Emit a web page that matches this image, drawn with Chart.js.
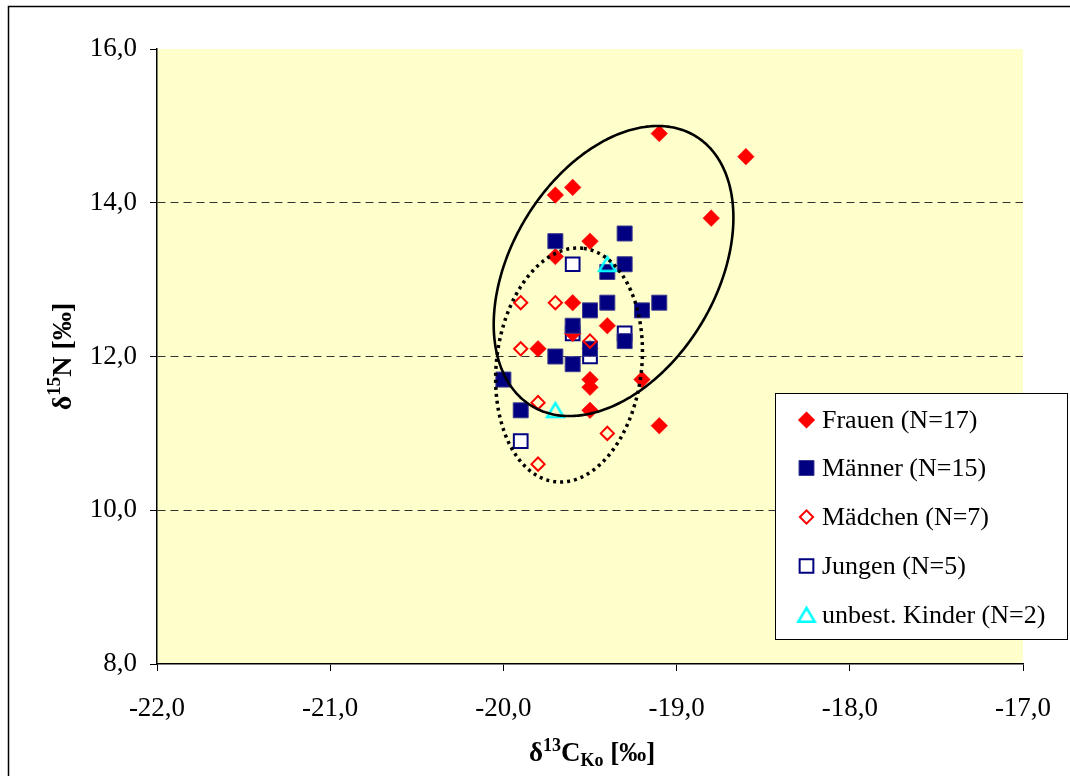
<!DOCTYPE html>
<html>
<head>
<meta charset="utf-8">
<script src="https://cdn.jsdelivr.net/npm/chart.js@4/dist/chart.umd.min.js"></script>
<style>
  html, body { margin: 0; padding: 0; background: #ffffff; }
  #wrap { width: 1070px; height: 776px; position: relative; }
</style>
</head>
<body>
<div id="wrap"><canvas id="c" width="1070" height="776"></canvas></div>
<script>
// Axis ranges (δ13C on x, δ15N on y)
const xTicks = [-22, -21, -20, -19, -18, -17];
const yTicks = [8, 10, 12, 14, 16];

// Series: δ13C (x) and δ15N (y) per individual
const frauenC  = [-19.1, -18.6, -19.7, -19.6, -18.8, -19.5, -19.7, -19.6, -19.4, -19.6, -19.5, -19.8, -19.5, -19.2, -19.5, -19.5, -19.1];
const frauenN  = [ 14.9,  14.6,  14.1,  14.2,  13.8,  13.5,  13.3,  12.7,  12.4,  12.3,  12.1,  12.1,  11.7,  11.7,  11.6,  11.3,  11.1];

const maennerC = [-19.7, -19.3, -19.3, -19.4, -19.4, -19.1, -19.5, -19.2, -19.6, -19.3, -19.5, -19.7, -19.6, -20.0, -19.9];
const maennerN = [ 13.5,  13.6,  13.2,  13.1,  12.7,  12.7,  12.6,  12.6,  12.4,  12.2,  12.1,  12.0,  11.9,  11.7,  11.3];

const maedchenC = [-19.9, -19.7, -19.5, -19.9, -19.8, -19.4, -19.8];
const maedchenN = [ 12.7,  12.7,  12.2,  12.1,  11.4,  11.0,  10.6];

const jungenC = [-19.6, -19.3, -19.6, -19.5, -19.9];
const jungenN = [ 13.2,  12.3,  12.3,  12.0,  10.9];

const kinderC = [-19.4, -19.7];
const kinderN = [ 13.2,  11.3];

const seriesNames = ['Frauen (N=17)', 'Männer (N=15)', 'Mädchen (N=7)', 'Jungen (N=5)', 'unbest. Kinder (N=2)'];

// Confidence ellipses in data units: centre, and the two half-axis vectors
const ellipseCenterC = [-19.364, -19.621];
const ellipseCenterN = [13.112, 11.889];
const ellipseAxisA = [[0.473, 1.755], [0.0813, 1.518]];
const ellipseAxisB = [[-0.505, 0.692], [-0.416, 0.1136]];

const toPoints = (xs, ys) => xs.map((x, i) => ({ x: x, y: ys[i] }));
const fmt = v => Number(v).toFixed(1).replace('.', ',');
const SERIF = "'Liberation Serif', 'Times New Roman', serif";

// Open triangle marker, centred on its bounding box
function makeTriangle() {
  const c = document.createElement('canvas');
  c.width = 22; c.height = 22;
  const g = c.getContext('2d');
  g.strokeStyle = '#00FFFF';
  g.lineWidth = 2.5;
  g.lineJoin = 'miter';
  g.beginPath();
  g.moveTo(11, 3.8);
  g.lineTo(2.8, 17.8);
  g.lineTo(19.2, 17.8);
  g.closePath();
  g.stroke();
  return c;
}
const triMarker = makeTriangle();

const datasets = [
  { label: seriesNames[0], data: toPoints(frauenC, frauenN), pointStyle: 'rectRot', pointRadius: 8.3,
    backgroundColor: '#FF0000', borderColor: '#FF0000', borderWidth: 0.5, order: 3 },
  { label: seriesNames[1], data: toPoints(maennerC, maennerN), pointStyle: 'rect', pointRadius: 10.6,
    backgroundColor: '#000080', borderColor: '#3a3a90', borderWidth: 1, order: 2 },
  { label: seriesNames[2], data: toPoints(maedchenC, maedchenN), pointStyle: 'rectRot', pointRadius: 6.6,
    backgroundColor: 'rgba(0,0,0,0)', borderColor: '#FF0000', borderWidth: 2, order: 1 },
  { label: seriesNames[3], data: toPoints(jungenC, jungenN), pointStyle: 'rect', pointRadius: 9.7,
    backgroundColor: '#FFFFFF', borderColor: '#000080', borderWidth: 2, order: 4 },
  { label: seriesNames[4], data: toPoints(kinderC, kinderN), pointStyle: triMarker, pointRadius: 9,
    backgroundColor: 'rgba(0,0,0,0)', borderColor: '#00FFFF', borderWidth: 2, order: 0 }
];
datasets.forEach(d => { d.pointHoverRadius = d.pointRadius; d.showLine = false; });

// Background, plot area fill and outer frame
const backdrop = {
  id: 'backdrop',
  beforeDraw(chart) {
    const { ctx, chartArea: a } = chart;
    ctx.save();
    ctx.fillStyle = '#FFFFFF';
    ctx.fillRect(0, 0, chart.width, chart.height);
    ctx.fillStyle = '#FFFFCC';
    ctx.fillRect(a.left, a.top, a.right - a.left, a.bottom - a.top);
    ctx.strokeStyle = '#000';
    ctx.lineWidth = 1.5;
    ctx.strokeRect(8.5, 6.5, 1200, 900);
    ctx.restore();
  }
};

// Ellipses around the adult women (solid) and the children (dotted)
const ellipses = {
  id: 'ellipses',
  afterDatasetsDraw(chart) {
    const { ctx, scales: { x, y } } = chart;
    ctx.save();
    for (let e = 0; e < ellipseCenterC.length; e++) {
      ctx.beginPath();
      for (let k = 0; k <= 360; k++) {
        const t = k * Math.PI / 180;
        const c = ellipseCenterC[e] + Math.cos(t) * ellipseAxisA[e][0] + Math.sin(t) * ellipseAxisB[e][0];
        const n = ellipseCenterN[e] + Math.cos(t) * ellipseAxisA[e][1] + Math.sin(t) * ellipseAxisB[e][1];
        const px = x.getPixelForValue(c), py = y.getPixelForValue(n);
        if (k === 0) ctx.moveTo(px, py); else ctx.lineTo(px, py);
      }
      ctx.closePath();
      ctx.strokeStyle = '#000';
      if (e === 0) {
        ctx.setLineDash([]);
        ctx.lineWidth = 2.6;
      } else {
        ctx.setLineDash([3, 4]);
        ctx.lineWidth = 3.5;
      }
      ctx.stroke();
    }
    ctx.restore();
  }
};

// Text with super-/subscripts, written as a run of segments
function drawRuns(ctx, runs, cx, baseline) {
  let total = 0;
  runs.forEach(r => { ctx.font = `bold ${r.s}px ${SERIF}`; r.w = ctx.measureText(r.t).width; total += r.w; });
  let xPos = cx - total / 2;
  ctx.textBaseline = 'alphabetic';
  ctx.textAlign = 'left';
  runs.forEach(r => {
    ctx.font = `bold ${r.s}px ${SERIF}`;
    ctx.fillText(r.t, xPos, baseline + (r.dy || 0));
    xPos += r.w;
  });
}

const axisTitles = {
  id: 'axisTitles',
  afterDraw(chart) {
    const { ctx, chartArea: a } = chart;
    ctx.save();
    ctx.fillStyle = '#000';
    drawRuns(ctx, [
      { t: 'δ', s: 27 }, { t: '13', s: 18, dy: -10 }, { t: 'C', s: 27 },
      { t: 'Ko', s: 18, dy: 5 }, { t: ' [‰]', s: 27 }
    ], (a.left + a.right) / 2 + 2, 761);
    ctx.translate(71, (a.top + a.bottom) / 2);
    ctx.rotate(-Math.PI / 2);
    drawRuns(ctx, [
      { t: 'δ', s: 28 }, { t: '15', s: 19, dy: -11 }, { t: 'N [‰]', s: 28 }
    ], 0, 0);
    ctx.restore();
  }
};

// Legend box inside the plot, right-hand side
function drawMarker(ctx, d, x, y) {
  const r = d.pointRadius;
  ctx.save();
  if (d.pointStyle instanceof HTMLCanvasElement) {
    ctx.drawImage(d.pointStyle, x - d.pointStyle.width / 2, y - d.pointStyle.height / 2);
    ctx.restore();
    return;
  }
  ctx.beginPath();
  if (d.pointStyle === 'rectRot') {
    ctx.moveTo(x - r, y); ctx.lineTo(x, y - r); ctx.lineTo(x + r, y); ctx.lineTo(x, y + r);
  } else {
    const h = r * Math.SQRT1_2;
    ctx.rect(x - h, y - h, 2 * h, 2 * h);
  }
  ctx.closePath();
  ctx.fillStyle = d.backgroundColor;
  ctx.fill();
  ctx.lineWidth = d.borderWidth;
  ctx.strokeStyle = d.borderColor;
  ctx.stroke();
  ctx.restore();
}

const boxLegend = {
  id: 'boxLegend',
  afterDraw(chart) {
    const ctx = chart.ctx;
    ctx.save();
    ctx.fillStyle = '#FFFFFF';
    ctx.fillRect(775.5, 393.5, 292, 246);
    ctx.strokeStyle = '#000';
    ctx.lineWidth = 1;
    ctx.strokeRect(775.5, 393.5, 292, 246);
    const rows = [420, 468, 517, 566, 615];
    chart.data.datasets.forEach((d, i) => {
      drawMarker(ctx, d, 806.5, rows[i]);
      ctx.fillStyle = '#000';
      ctx.font = `26px ${SERIF}`;
      ctx.textBaseline = 'middle';
      ctx.textAlign = 'left';
      ctx.fillText(d.label, 822, rows[i] + 1);
    });
    ctx.restore();
  }
};

new Chart(document.getElementById('c'), {
  type: 'scatter',
  data: { datasets: datasets },
  plugins: [backdrop, ellipses, axisTitles, boxLegend],
  options: {
    responsive: false,
    animation: false,
    events: [],
    layout: { padding: { left: 0, top: 49, right: 47, bottom: 0 } },
    plugins: { legend: { display: false }, tooltip: { enabled: false } },
    scales: {
      x: {
        type: 'linear',
        min: xTicks[0], max: xTicks[xTicks.length - 1],
        afterBuildTicks: s => { s.ticks = xTicks.map(v => ({ value: v })); },
        afterFit: s => { s.height = 112; s.paddingLeft = 0; s.paddingRight = 0; },
        grid: { drawOnChartArea: false, drawTicks: true, tickLength: 7, tickColor: '#000', tickWidth: 1 },
        border: { display: true, color: '#000', width: 1.5 },
        ticks: { color: '#000', font: { family: SERIF, size: 27 }, padding: 22, maxRotation: 0, autoSkip: false,
                 callback: v => fmt(v) }
      },
      y: {
        type: 'linear',
        min: yTicks[0], max: yTicks[yTicks.length - 1],
        afterBuildTicks: s => { s.ticks = yTicks.map(v => ({ value: v })); },
        afterFit: s => { s.width = 157; s.paddingTop = 0; s.paddingBottom = 0; },
        grid: {
          drawOnChartArea: true, drawTicks: true, tickLength: 7, tickWidth: 1, tickColor: '#000', lineWidth: 1,
          tickBorderDash: [],
          color: c => (c.tick && (c.tick.value === yTicks[0] || c.tick.value === yTicks[yTicks.length - 1])) ? 'rgba(0,0,0,0)' : '#333'
        },
        border: { display: true, color: '#000', width: 1.5, dash: [8, 5] },
        ticks: { color: '#000', font: { family: SERIF, size: 27 }, padding: 13, autoSkip: false,
                 callback: v => fmt(v) }
      }
    }
  }
});
</script>
</body>
</html>
